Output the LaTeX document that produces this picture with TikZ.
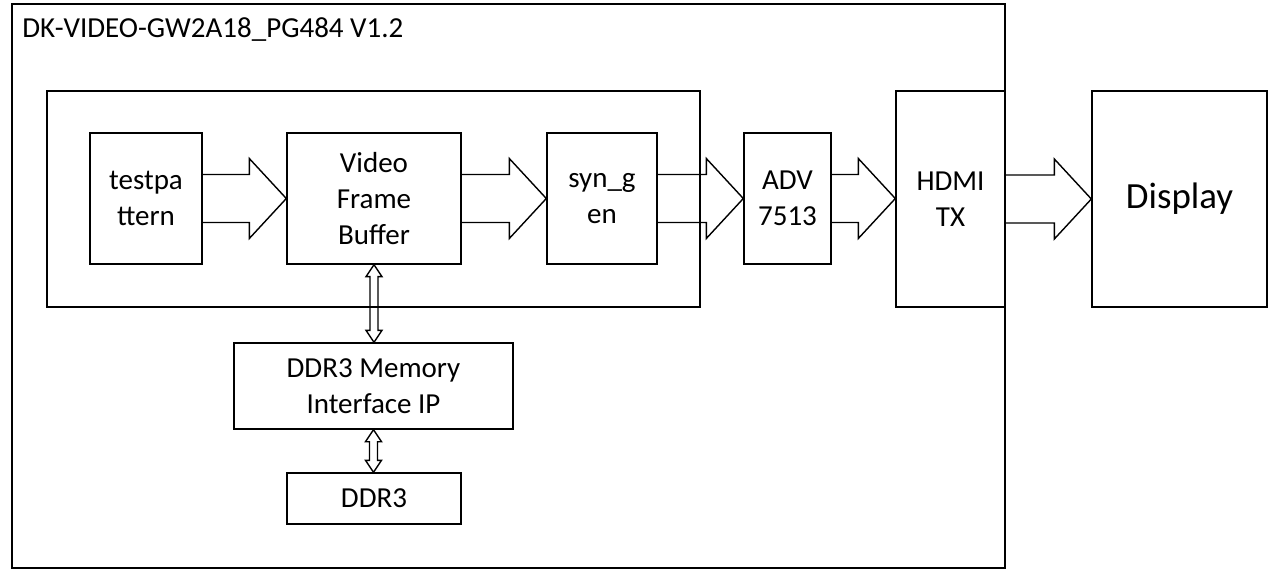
\documentclass[tikz,border=0pt]{standalone}
\usepackage{fontspec}
\setmainfont{Carlito}
\usetikzlibrary{calc}
\tikzset{
blk/.style={draw, line width=0.8pt, align=center, font=\fontsize{16.5}{20.5}\selectfont, inner sep=0pt},
frame/.style={draw, line width=0.8pt},
}
% wide hollow arrow between two blocks
\newcommand\fatarrow[2]{\draw[line width=0.8pt] let \p1=(#1.east), \p2=(#2.west) in
 (\x1,\y1+0.48cm) -- (\x2-0.74cm,\y1+0.48cm) -- (\x2-0.74cm,\y1+0.8cm) -- (\x2,\y1)
 -- (\x2-0.74cm,\y1-0.8cm) -- (\x2-0.74cm,\y1-0.48cm) -- (\x1,\y1-0.48cm);}
% thin hollow double arrow, vertical
\newcommand\dblarrow[2]{\draw[line width=0.8pt] let \p1=(#1.south), \p2=(#2.north) in
 (\x1,\y1) -- (\x1+0.16cm,\y1-0.24cm) -- (\x1+0.08cm,\y1-0.24cm) -- (\x1+0.08cm,\y2+0.24cm)
 -- (\x1+0.16cm,\y2+0.24cm) -- (\x1,\y2) -- (\x1-0.16cm,\y2+0.24cm) -- (\x1-0.08cm,\y2+0.24cm)
 -- (\x1-0.08cm,\y1-0.24cm) -- (\x1-0.16cm,\y1-0.24cm) -- cycle;}
\begin{document}
\begin{tikzpicture}[x=0.02cm,y=-0.02cm]
\useasboundingbox (0,0) rectangle (1270,572);
\draw[frame] (12,4) rectangle (1005,568);
\node[anchor=west, inner sep=0pt, font=\fontsize{16.5}{20}\selectfont] (title) at (22,30) {DK-VIDEO-GW2A18\_PG484 V1.2};
\draw[frame] (47,91) rectangle (700,307);
\node[blk, minimum width=2.24cm, minimum height=2.62cm] (tp) at (146,198.5) {testpa\\ttern};
\node[blk, minimum width=3.48cm, minimum height=2.62cm] (vfb) at (374,198.5) {Video\\Frame\\Buffer};
\node[blk, minimum width=2.2cm, minimum height=2.62cm] (syn) at (602,198.5) {syn\_g\\en};
\node[blk, minimum width=1.74cm, minimum height=2.62cm] (adv) at (787.5,198.5) {ADV\\7513};
\node[blk, minimum width=2.18cm, minimum height=4.32cm] (hdmi) at (950.5,199) {HDMI\\TX};
\node[blk, minimum width=3.5cm, minimum height=4.32cm, font=\fontsize{21}{25}\selectfont] (disp) at (1179.5,199) {Display};
\node[blk, minimum width=5.58cm, minimum height=1.72cm] (ip) at (373.5,386) {DDR3 Memory\\Interface IP};
\node[blk, minimum width=3.48cm, minimum height=1.02cm] (ddr) at (374,498.5) {DDR3};
\fatarrow{tp}{vfb}
\fatarrow{vfb}{syn}
\fatarrow{syn}{adv}
\fatarrow{adv}{hdmi}
\fatarrow{hdmi}{disp}
\dblarrow{vfb}{ip}
\dblarrow{ip}{ddr}
\end{tikzpicture}
\end{document}
